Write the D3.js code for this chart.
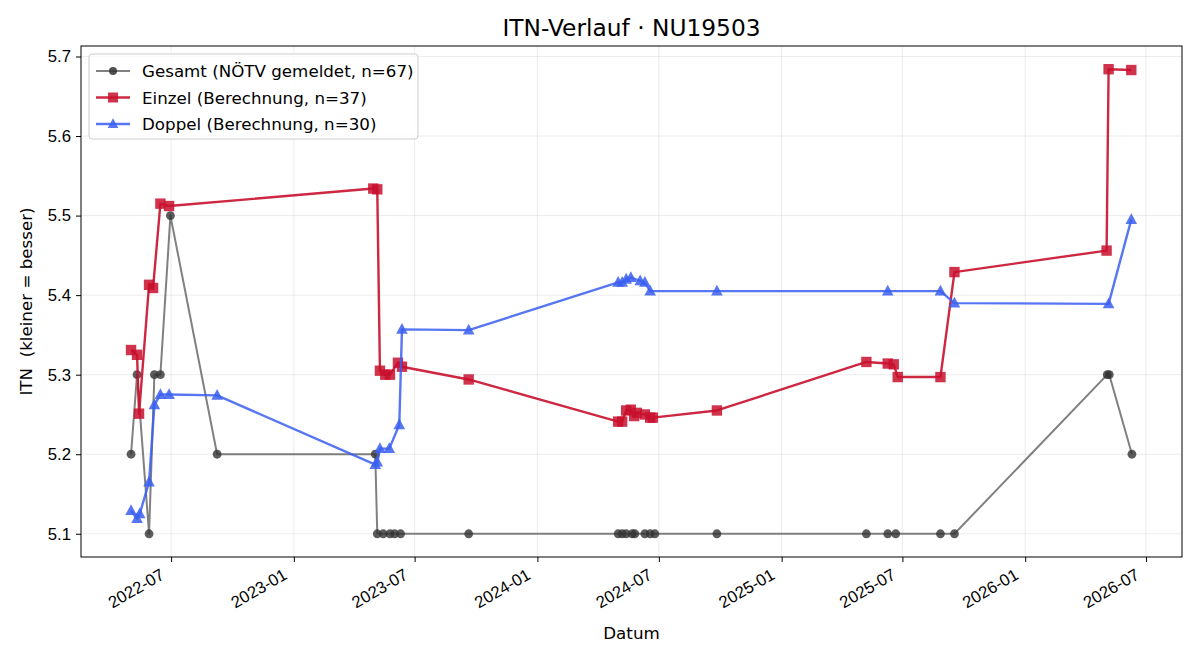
<!DOCTYPE html>
<html><head><meta charset="utf-8">
<script src="https://cdn.jsdelivr.net/npm/d3@7"></script>
<style>
html,body{margin:0;padding:0;background:#fff;}
svg{display:block;font-family:"DejaVu Sans",sans-serif;}
text{white-space:pre;}
</style></head>
<body>
<script>
const title = "ITN-Verlauf · NU19503";
const yLabel = "ITN  (kleiner = besser)";
const xLabel = "Datum";
const yTicks = [5.1, 5.2, 5.3, 5.4, 5.5, 5.6, 5.7];
const xTicks = ["2022-07","2023-01","2023-07","2024-01","2024-07","2025-01","2025-07","2026-01","2026-07"];

const gesamtDates = ["2022-05-02","2022-05-11","2022-05-29","2022-06-06","2022-06-15","2022-06-30","2022-09-08",
  "2023-05-03","2023-05-06","2023-05-15","2023-05-25","2023-06-01","2023-06-10","2023-09-20",
  "2024-05-01","2024-05-07","2024-05-13","2024-05-22","2024-05-26","2024-06-10","2024-06-18","2024-06-25",
  "2024-09-26","2025-05-08","2025-06-09","2025-06-21","2025-08-27","2025-09-17","2026-05-04","2026-05-07","2026-06-10"];
const gesamtValues = [5.2,5.3,5.1,5.3,5.3,5.5,5.2,
  5.2,5.1,5.1,5.1,5.1,5.1,5.1,
  5.1,5.1,5.1,5.1,5.1,5.1,5.1,5.1,
  5.1,5.1,5.1,5.1,5.1,5.1,5.3,5.3,5.2];

const einzelDates = ["2022-05-02","2022-05-11","2022-05-14","2022-05-29","2022-06-04","2022-06-15","2022-06-28",
  "2023-04-30","2023-05-06","2023-05-10","2023-05-18","2023-05-25","2023-06-06","2023-06-12","2023-09-20",
  "2024-05-01","2024-05-07","2024-05-13","2024-05-20","2024-05-25","2024-05-29","2024-06-10","2024-06-18","2024-06-22",
  "2024-09-26","2025-05-08","2025-06-09","2025-06-18","2025-06-24","2025-08-27","2025-09-17",
  "2026-05-03","2026-05-06","2026-06-09"];
const einzelValues = [5.331,5.325,5.251,5.413,5.409,5.515,5.512,
  5.534,5.533,5.305,5.300,5.300,5.315,5.310,5.294,
  5.241,5.241,5.255,5.256,5.248,5.252,5.250,5.246,5.246,
  5.255,5.316,5.314,5.313,5.297,5.297,5.429,
  5.456,5.684,5.683];

const doppelDates = ["2022-05-02","2022-05-11","2022-05-15","2022-05-29","2022-06-06","2022-06-15","2022-06-28","2022-09-08",
  "2023-05-03","2023-05-06","2023-05-10","2023-05-24","2023-06-08","2023-06-12","2023-09-20",
  "2024-05-01","2024-05-07","2024-05-13","2024-05-20","2024-06-03","2024-06-10","2024-06-18",
  "2024-09-26","2025-06-09","2025-08-27","2025-09-17","2026-05-06","2026-06-09"];
const doppelValues = [5.129,5.119,5.125,5.165,5.262,5.275,5.275,5.274,
  5.187,5.190,5.207,5.207,5.237,5.357,5.356,
  5.416,5.416,5.420,5.422,5.418,5.416,5.405,
  5.405,5.405,5.405,5.390,5.389,5.495];

const seriesNames = ["Gesamt (NÖTV gemeldet, n=67)","Einzel (Berechnung, n=37)","Doppel (Berechnung, n=30)"];

const W = 1200, H = 660;
const M = {left:81, right:18, top:46, bottom:103};
const pw = W - M.left - M.right, ph = H - M.top - M.bottom;
const FS = 16.7;
const parse = d3.utcParse("%Y-%m-%d");
const parseM = d3.utcParse("%Y-%m");

const mk = (ds, vs) => ds.map((d,i)=>({date:parse(d), v:vs[i]}));
const gesamt = mk(gesamtDates, gesamtValues);
const einzel = mk(einzelDates, einzelValues);
const doppel = mk(doppelDates, doppelValues);
const all = gesamt.concat(einzel, doppel);

const xe = d3.extent(all, d=>d.date), ye = d3.extent(all, d=>d.v);
const xr = xe[1]-xe[0], yr = ye[1]-ye[0];
const x = d3.scaleUtc().domain([new Date(+xe[0]-0.05*xr), new Date(+xe[1]+0.05*xr)]).range([0,pw]);
const y = d3.scaleLinear().domain([ye[0]-0.05*yr, ye[1]+0.05*yr]).range([ph,0]);

const svg = d3.select("body").append("svg").attr("width",W).attr("height",H);
svg.append("rect").attr("width",W).attr("height",H).attr("fill","#fff");
svg.append("text").attr("x", M.left+pw/2).attr("y", 36).attr("text-anchor","middle")
  .attr("font-size",23.3).attr("fill","#000").text(title);

const g = svg.append("g").attr("transform",`translate(${M.left},${M.top})`);

// grid
const xt = xTicks.map(parseM);
g.append("g").selectAll("line").data(xt).join("line")
  .attr("x1",d=>x(d)).attr("x2",d=>x(d)).attr("y1",0).attr("y2",ph)
  .attr("stroke","#b0b0b0").attr("stroke-opacity",0.3).attr("stroke-width",0.8);
g.append("g").selectAll("line").data(yTicks).join("line")
  .attr("y1",d=>y(d)).attr("y2",d=>y(d)).attr("x1",0).attr("x2",pw)
  .attr("stroke","#b0b0b0").attr("stroke-opacity",0.3).attr("stroke-width",0.8);

// axes
const xAxis = g.append("g").attr("transform",`translate(0,${ph})`)
  .call(d3.axisBottom(x).tickValues(xt).tickFormat(d3.utcFormat("%Y-%m")).tickSize(5).tickSizeOuter(0));
xAxis.selectAll("text").attr("font-size",FS).attr("fill","#000")
  .attr("text-anchor","end").attr("dy",null).attr("y",0)
  .attr("transform","translate(-6,21) rotate(-30)");
const yAxis = g.append("g")
  .call(d3.axisLeft(y).tickValues(yTicks).tickFormat(d3.format(".1f")).tickSize(5).tickSizeOuter(0));
yAxis.selectAll("text").attr("font-size",FS).attr("fill","#000").attr("x",-10);
[xAxis,yAxis].forEach(a=>{a.select(".domain").remove(); a.selectAll("line").attr("stroke","#000").attr("stroke-width",1);});
g.append("rect").attr("width",pw).attr("height",ph).attr("fill","none").attr("stroke","#000").attr("stroke-width",1);

svg.append("text").attr("x",M.left+pw/2).attr("y",639).attr("text-anchor","middle")
  .attr("font-size",FS).text(xLabel);
svg.append("text").attr("transform",`translate(32,${M.top+ph/2}) rotate(-90)`).attr("text-anchor","middle")
  .attr("font-size",FS).text(yLabel);

const line = d3.line().x(d=>x(d.date)).y(d=>y(d.v));
const clip = g.append("g");

function drawSeries(data, color, lw, opacity, shape, mcol, mop){
  clip.append("path").datum(data).attr("d",line).attr("fill","none")
    .attr("stroke",color).attr("stroke-width",lw).attr("stroke-opacity",opacity).attr("stroke-linejoin","round");
  clip.append("g").selectAll("path").data(data).join("path")
    .attr("transform",d=>`translate(${x(d.date)},${y(d.v)})`)
    .attr("d",shape).attr("fill",mcol).attr("fill-opacity",mop);
}
const circ = d3.symbol().type(d3.symbolCircle).size(Math.PI*4.4*4.4)();
const sq = "M-5.2,-5.2H5.2V5.2H-5.2Z";
const tri = "M0,-6.4L5.8,4.4L-5.8,4.4Z";

drawSeries(gesamt, "#555555", 2, 0.75, circ, "#333333", 0.8);
drawSeries(einzel, "#c8102e", 2.4, 0.9, sq, "#c8102e", 0.85);
drawSeries(doppel, "#3a5ff0", 2.4, 0.85, tri, "#3a5ff0", 0.85);

// legend
const lg = svg.append("g").attr("transform","translate(89,54)");
lg.append("rect").attr("width",329).attr("height",85).attr("rx",3).attr("fill","#fff").attr("fill-opacity",0.8)
  .attr("stroke","#cccccc").attr("stroke-width",1);
const legItems = [
  {color:"#555555", op:0.75, lw:2, shape:d3.symbol().type(d3.symbolCircle).size(Math.PI*4*4)(), mcol:"#333333"},
  {color:"#c8102e", op:0.9, lw:2.4, shape:"M-5,-5H5V5H-5Z", mcol:"#c8102e"},
  {color:"#3a5ff0", op:0.85, lw:2.4, shape:"M0,-5.8L5.3,4L-5.3,4Z", mcol:"#3a5ff0"}
];
legItems.forEach((it,i)=>{
  const yy = 17 + i*26.5;
  lg.append("line").attr("x1",7).attr("x2",41).attr("y1",yy).attr("y2",yy)
    .attr("stroke",it.color).attr("stroke-width",it.lw).attr("stroke-opacity",it.op);
  lg.append("path").attr("transform",`translate(24,${yy})`).attr("d",it.shape).attr("fill",it.mcol).attr("fill-opacity",0.85);
  lg.append("text").attr("x",53).attr("y",yy+6).attr("font-size",FS).attr("fill","#000").text(seriesNames[i]);
});
</script>
</body></html>
